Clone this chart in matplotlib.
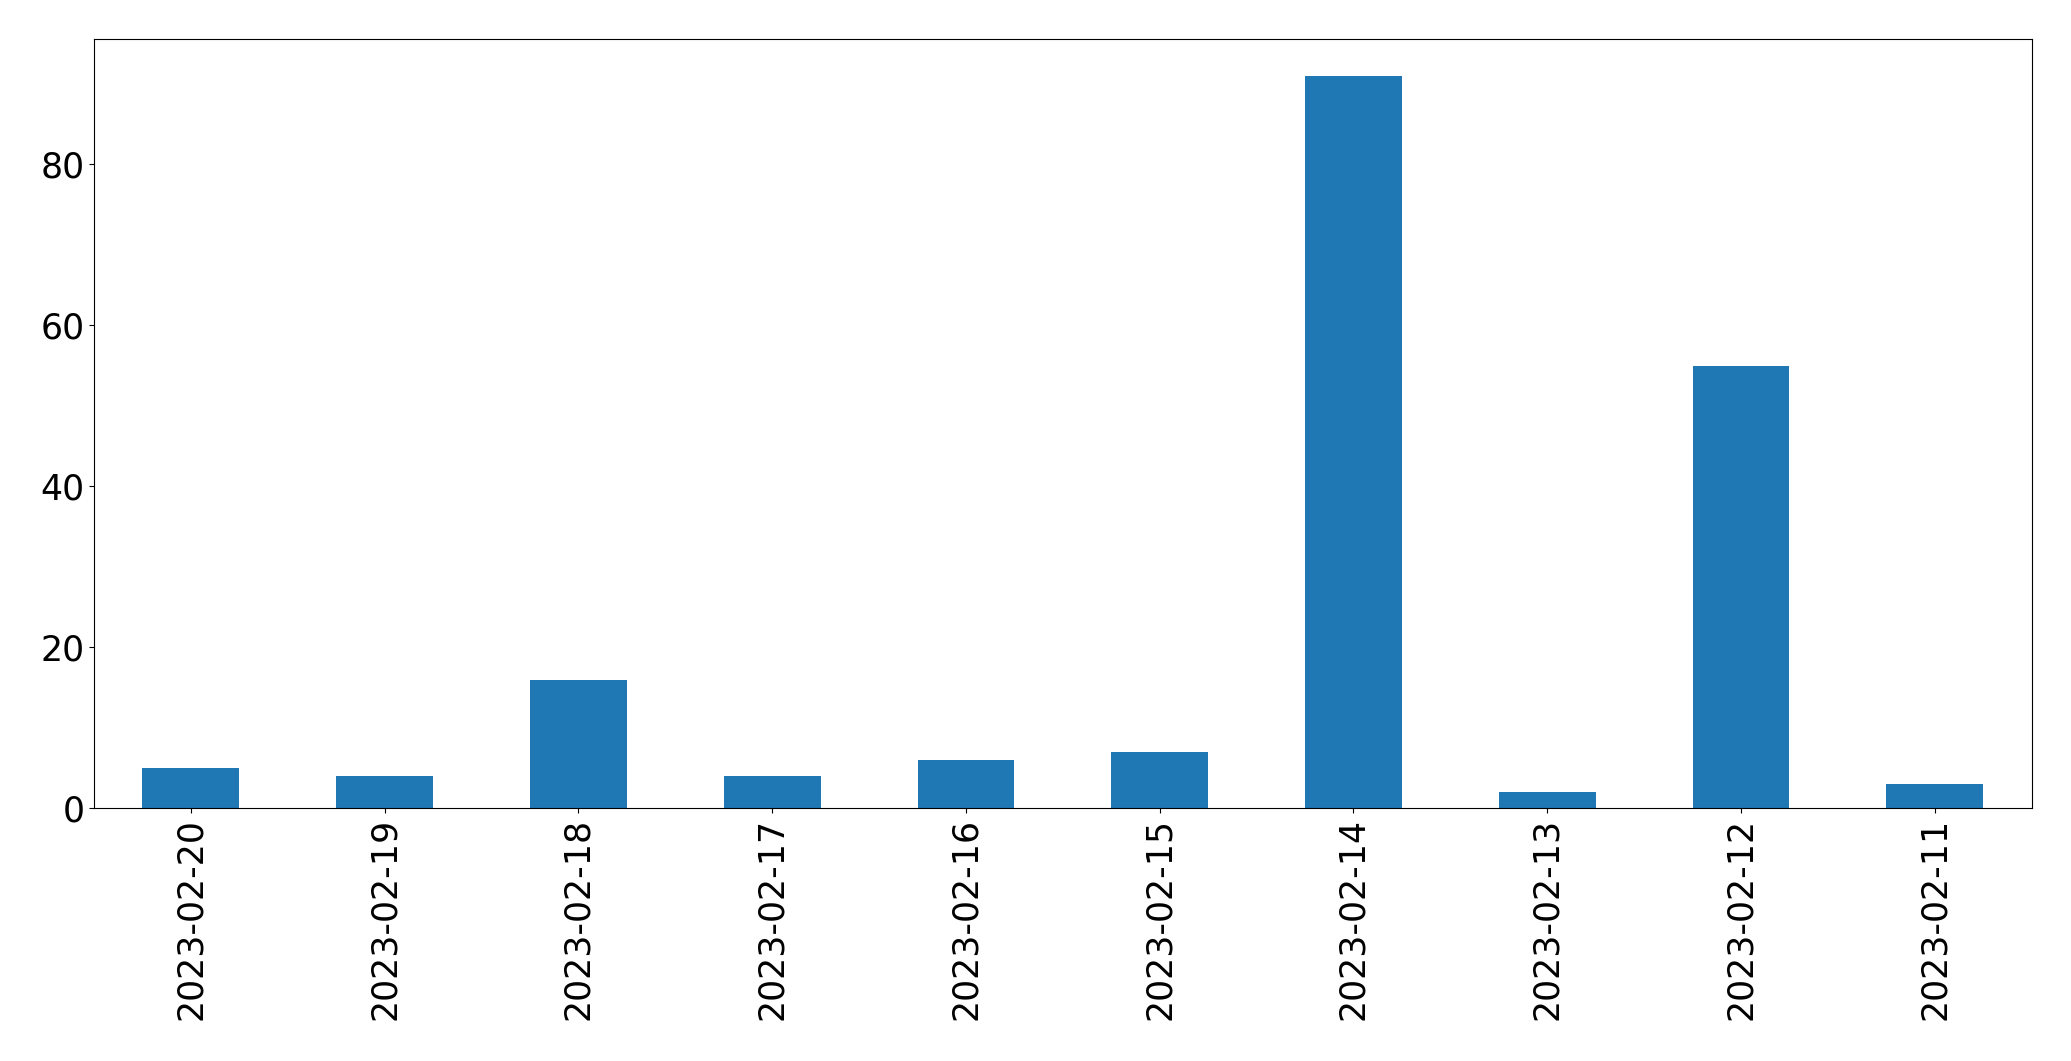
import pandas as pd
import matplotlib
matplotlib.use("Agg")
import matplotlib.pyplot as plt

dates = ["2023-02-20", "2023-02-19", "2023-02-18", "2023-02-17", "2023-02-16",
         "2023-02-15", "2023-02-14", "2023-02-13", "2023-02-12", "2023-02-11"]
counts = [5, 4, 16, 4, 6, 7, 91, 2, 55, 3]

s = pd.Series(counts, index=dates)

fig, ax = plt.subplots(figsize=(20.71, 10.61), dpi=100)
s.plot(kind="bar", ax=ax, color="#1f77b4")
ax.tick_params(axis="both", labelsize=25)
plt.subplots_adjust(left=0.0454, right=0.981, top=0.963, bottom=0.238)
plt.savefig("out.png", dpi=100)
